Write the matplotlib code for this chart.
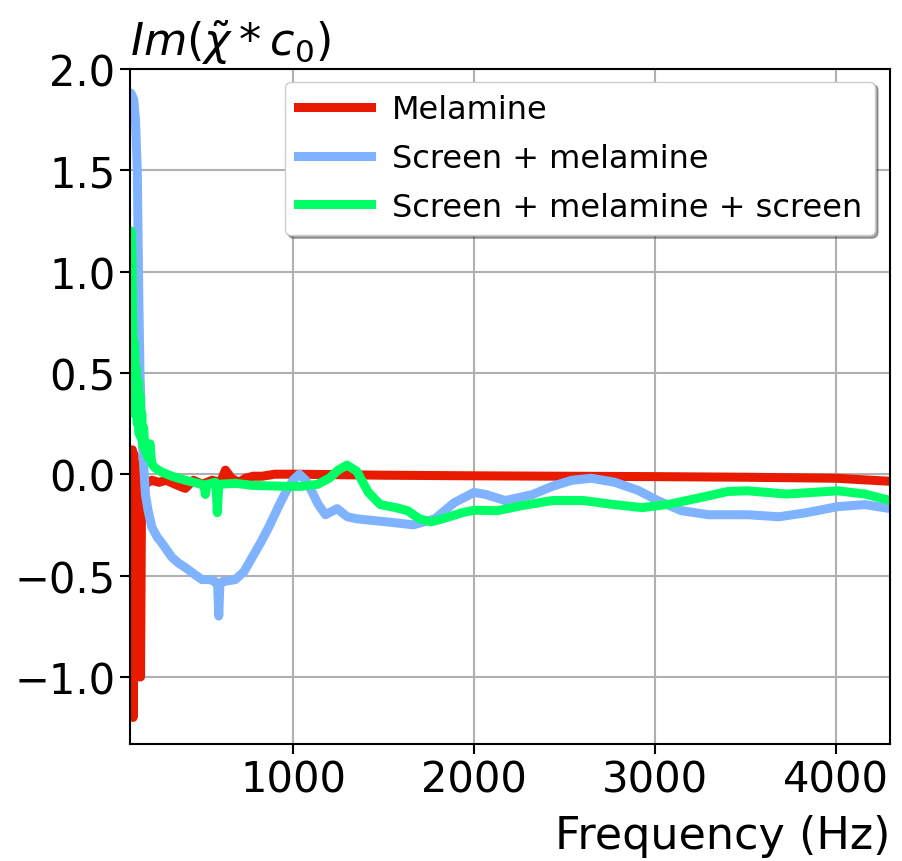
import matplotlib
matplotlib.use("Agg")
import matplotlib.pyplot as plt

# 读图估计的数据点(频率 Hz, Im(chi*c0))
freq_mel = [100, 105, 110, 113, 117, 121, 126, 130, 135, 140, 146, 152, 158, 163,
            170, 183, 200, 220, 260, 300, 350, 405, 450, 500, 553, 600, 627, 660,
            700, 738, 780, 830, 900, 1000, 1500, 2000, 2500, 3000, 3500, 4000, 4300]
im_mel = [0.05, 0.10, -0.60, 0.12, -1.20, 0.10, -0.90, 0.05, -1.00, 0.00, -1.00,
          -0.30, -1.00, -0.20, -0.15, -0.05, -0.04, -0.03, -0.04, -0.03, -0.05,
          -0.07, -0.03, -0.05, -0.03, -0.04, 0.02, -0.02, -0.04, -0.02, -0.01,
          -0.01, 0.00, 0.00, -0.005, -0.008, -0.01, -0.012, -0.015, -0.02, -0.035]

freq_scr = [100, 105, 120, 130, 140, 148, 155, 165, 175, 185, 200, 220, 250, 276,
            300, 331, 370, 405, 450, 497, 540, 571, 584, 590, 596, 610, 682, 730,
            775, 820, 867, 920, 959, 1000, 1035, 1070, 1107, 1140, 1180, 1244,
            1300, 1352, 1460, 1568, 1665, 1784, 1892, 2000, 2065, 2173, 2324,
            2432, 2540, 2648, 2778, 2907, 3015, 3145, 3296, 3512, 3685, 3836,
            4009, 4160, 4300]
im_scr = [1.80, 1.88, 1.85, 1.75, 1.50, 0.90, 0.50, 0.20, 0.05, -0.10, -0.18, -0.26,
          -0.31, -0.34, -0.37, -0.41, -0.44, -0.46, -0.49, -0.52, -0.52, -0.53,
          -0.55, -0.70, -0.55, -0.53, -0.52, -0.48, -0.41, -0.34, -0.26, -0.16,
          -0.09, -0.03, 0.00, -0.03, -0.09, -0.15, -0.20, -0.17, -0.21, -0.22,
          -0.23, -0.24, -0.25, -0.22, -0.14, -0.09, -0.10, -0.13, -0.10, -0.06,
          -0.03, -0.02, -0.04, -0.08, -0.13, -0.18, -0.20, -0.20, -0.21, -0.19,
          -0.16, -0.15, -0.17]

freq_ss = [100, 105, 110, 115, 120, 125, 130, 135, 140, 145, 150, 155, 160, 165,
           170, 175, 183, 200, 210, 220, 240, 276, 331, 405, 497, 510, 516, 525,
           571, 578, 582, 590, 682, 775, 959, 1042, 1136, 1200, 1250, 1298, 1352,
           1417, 1482, 1568, 1633, 1698, 1762, 1827, 1935, 2000, 2130, 2259, 2432,
           2605, 2756, 2929, 3080, 3253, 3404, 3512, 3728, 4009, 4160, 4300]
im_ss = [1.00, 1.20, 1.10, 0.70, 0.30, 0.65, 0.40, 0.52, 0.25, 0.46, 0.20, 0.39,
         0.18, 0.30, 0.14, 0.23, 0.12, 0.08, 0.15, 0.05, 0.03, 0.01, -0.01, -0.03,
         -0.05, -0.06, -0.10, -0.05, -0.04, -0.10, -0.19, -0.05, -0.045, -0.055,
         -0.06, -0.06, -0.05, -0.02, 0.02, 0.045, 0.015, -0.09, -0.15, -0.165,
         -0.18, -0.22, -0.235, -0.22, -0.19, -0.178, -0.18, -0.156, -0.13, -0.13,
         -0.148, -0.165, -0.148, -0.115, -0.085, -0.082, -0.098, -0.082, -0.098,
         -0.13]

XTICKS = [1000, 2000, 3000, 4000]
YTICKS = [-1.0, -0.5, 0.0, 0.5, 1.0, 1.5, 2.0]


def main():
    plt.rcParams.update({"font.family": ["DejaVu Sans"], "font.size": 30})
    fig = plt.figure(figsize=(9.03, 8.62), dpi=100)
    ax = fig.add_axes([0.144, 0.136, 0.842, 0.783])

    ax.plot(freq_mel, im_mel, color="#e81a00", lw=6.5, label="Melamine")
    ax.plot(freq_scr, im_scr, color="#80b3ff", lw=6.5, label="Screen + melamine")
    ax.plot(freq_ss, im_ss, color="#00ff66", lw=6.5, label="Screen + melamine + screen")

    ax.set_xlim(100, 4300)
    ax.set_ylim(-1.33, 2.0)
    ax.set_xticks(XTICKS)
    ax.set_yticks(YTICKS)
    ax.grid(True, color="#b0b0b0", lw=1.5)
    ax.tick_params(labelsize=30, width=1.5, length=7)
    for s in ax.spines.values():
        s.set_linewidth(1.5)

    ax.set_title(r"$Im(\tilde{\chi}*c_0)$", loc="left", fontsize=32, pad=10)
    ax.set_xlabel("Frequency (Hz)", loc="right", fontsize=32, labelpad=10)

    ax.legend(loc="upper right", fontsize=23, shadow=True, framealpha=1,
              bbox_to_anchor=(0.980, 0.981), borderaxespad=0,
              handlelength=2.3, handletextpad=0.65,
              labelspacing=0.55, borderpad=0.4)

    fig.savefig("out.png")
    plt.close(fig)


if __name__ == "__main__":
    main()
